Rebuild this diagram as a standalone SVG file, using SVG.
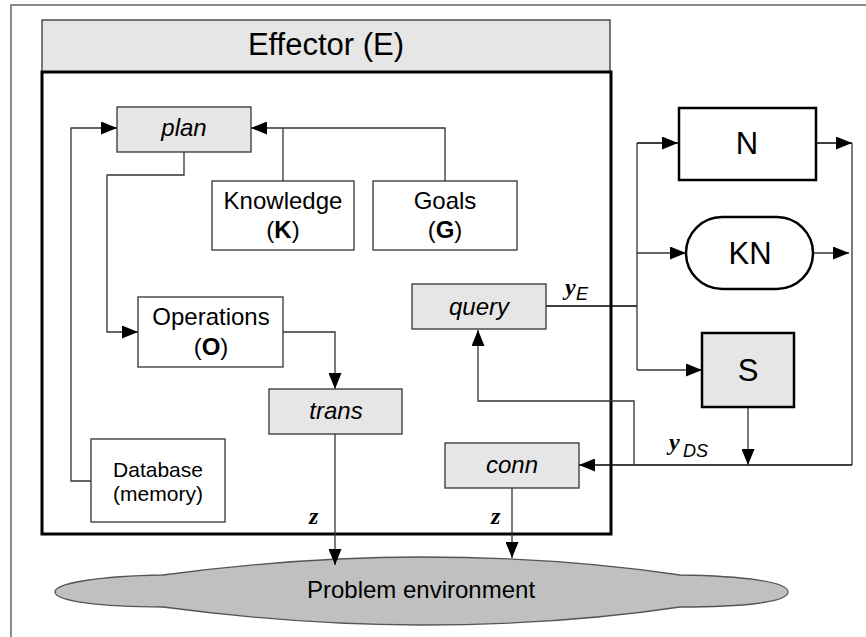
<svg xmlns="http://www.w3.org/2000/svg" width="866" height="637" viewBox="0 0 866 637">
<style>
  .box{fill:#fff;stroke:#333;stroke-width:1.3}
  .gbox{fill:#e6e6e6;stroke:#333;stroke-width:1.3}
  .t{font-family:"Liberation Sans",Arial,sans-serif;font-size:24px;fill:#000;text-anchor:middle}
  .it{font-style:italic}
  .big{font-size:31px}
  .sm{font-size:21px}
  .var{font-family:"Liberation Serif","Times New Roman",serif;font-style:italic;font-weight:bold;font-size:24px;fill:#000}
  .sub{font-family:"Liberation Sans",Arial,sans-serif;font-style:italic;font-size:18px;fill:#000}
  .c{fill:none;stroke:#333;stroke-width:1.3}
  .ck{fill:none;stroke:#000;stroke-width:1.3}
</style>
<defs>
  <marker id="ar" markerUnits="userSpaceOnUse" markerWidth="16" markerHeight="13" refX="16" refY="6.5" orient="auto">
    <path d="M0,0 L16,6.5 L0,13 Z" fill="#000"/>
  </marker>
</defs>
<rect width="866" height="637" fill="#fff"/>
<rect x="11" y="5" width="880" height="650" fill="none" stroke="#666" stroke-width="1.5"/>

<g id="effector">
  <rect x="42" y="20" width="568" height="52" class="gbox"/>
  <text x="326" y="55" class="t big">Effector (E)</text>
  <rect x="42" y="72" width="569" height="462" fill="none" stroke="#000" stroke-width="3"/>
</g>

<g id="environment">
  <path d="M163,575 Q300,557 420,557 Q560,557 680,575 C745,576 788,582 788,592 C788,602 745,607 680,607 Q560,625 420,625 Q300,625 163,607 C100,607 55,601 55,592 C55,583 100,576 163,575 Z" fill="#c0c0c0" stroke="#555" stroke-width="1.3"/>
  <text x="421" y="598" class="t">Problem environment</text>
</g>

<g id="connectors">
  <path class="c" d="M283,181 V128"/>
  <path class="c" d="M445,181 V128 H251" marker-end="url(#ar)"/>
  <path class="c" d="M91,481 H71 V128 H117" marker-end="url(#ar)"/>
  <path class="c" d="M184,152 V175 H107 V332 H138" marker-end="url(#ar)"/>
  <path class="c" d="M283,332 H335 V389" marker-end="url(#ar)"/>
  <path class="c" d="M335,434 V565" marker-end="url(#ar)"/>
  <path class="c" d="M512,488 V558" marker-end="url(#ar)"/>
  <path class="ck" d="M546,306 H637"/>
  <path class="c" d="M637,143 V370"/>
  <path class="ck" d="M637,143 H678" marker-end="url(#ar)"/>
  <path class="c" d="M637,253 H686" marker-end="url(#ar)"/>
  <path class="c" d="M637,370 H702" marker-end="url(#ar)"/>
  <path class="ck" d="M816,143 H852" marker-end="url(#ar)"/>
  <path class="c" d="M813,253 H849" marker-end="url(#ar)"/>
  <path class="c" d="M852,143 V465"/>
  <path class="ck" d="M852,465 H579" marker-end="url(#ar)"/>
  <path class="c" d="M748,407 V465" marker-end="url(#ar)"/>
  <path class="c" d="M634,465 V401 H478 V330" marker-end="url(#ar)"/>
</g>

<g id="labels">
  <text x="565" y="295" class="var">y</text>
  <text x="576" y="300" class="sub">E</text>
  <text x="669" y="450" class="var">y</text>
  <text x="683" y="457" class="sub">DS</text>
  <text x="309" y="524" class="var">z</text>
  <text x="491" y="524" class="var">z</text>
</g>

<g id="plan">
  <rect x="117" y="107" width="134" height="45" class="gbox"/>
  <text x="184" y="136" class="t it">plan</text>
</g>
<g id="knowledge">
  <rect x="212" y="181" width="142" height="69" class="box"/>
  <text x="283" y="209" class="t">Knowledge</text>
  <text x="283" y="238" class="t">(<tspan font-weight="bold">K</tspan>)</text>
</g>
<g id="goals">
  <rect x="373" y="181" width="144" height="69" class="box"/>
  <text x="445" y="209" class="t">Goals</text>
  <text x="445" y="238" class="t">(<tspan font-weight="bold">G</tspan>)</text>
</g>
<g id="operations">
  <rect x="138" y="297" width="145" height="70" class="box"/>
  <text x="211" y="325" class="t">Operations</text>
  <text x="211" y="355" class="t">(<tspan font-weight="bold">O</tspan>)</text>
</g>
<g id="trans">
  <rect x="269" y="389" width="133" height="45" class="gbox"/>
  <text x="336" y="419" class="t it">trans</text>
</g>
<g id="database">
  <rect x="91" y="439" width="134" height="83" class="box"/>
  <text x="158" y="477" class="t sm">Database</text>
  <text x="158" y="501" class="t sm">(memory)</text>
</g>
<g id="query">
  <rect x="412" y="284" width="134" height="45" class="gbox"/>
  <text x="479" y="315" class="t it">query</text>
</g>
<g id="conn">
  <rect x="445" y="443" width="134" height="45" class="gbox"/>
  <text x="512" y="473" class="t it">conn</text>
</g>
<g id="N">
  <rect x="679" y="108" width="137" height="72" fill="#fff" stroke="#000" stroke-width="2.5"/>
  <text x="747" y="154" class="t big">N</text>
</g>
<g id="KN">
  <rect x="686" y="217" width="127" height="72" rx="36" ry="36" fill="#fff" stroke="#000" stroke-width="2.5"/>
  <text x="750" y="264" class="t big">KN</text>
</g>
<g id="S">
  <rect x="702" y="333" width="92" height="74" fill="#e6e6e6" stroke="#000" stroke-width="2.5"/>
  <text x="748" y="381" class="t big">S</text>
</g>
</svg>
